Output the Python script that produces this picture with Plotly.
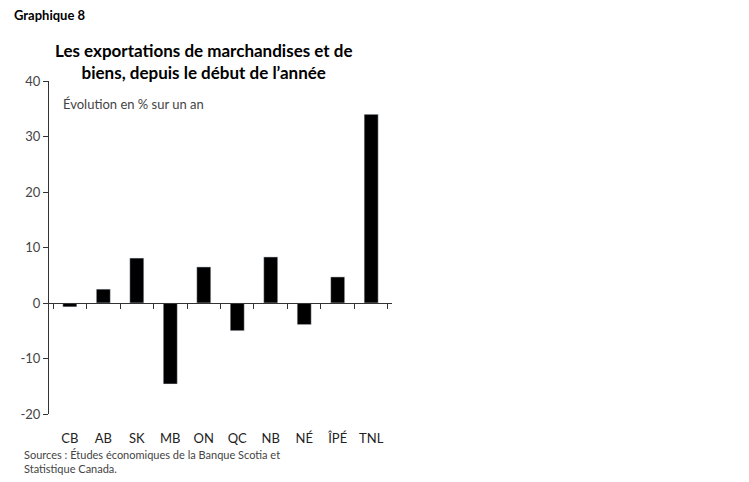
import plotly.graph_objects as go

provinces = ['CB', 'AB', 'SK', 'MB', 'ON', 'QC', 'NB', 'NÉ', 'ÎPÉ', 'TNL']
growth = [-0.7, 2.5, 8.1, -14.6, 6.5, -5.0, 8.3, -3.9, 4.7, 34.0]
yticks = [-20, -10, 0, 10, 20, 30, 40]
yticklabels = ['-20', '-10', '0', '10', '20', '30', '40']

font = 'Lato'
fig = go.Figure()
fig.add_trace(go.Bar(x=provinces, y=growth, marker_color='black', width=0.42, showlegend=False))
# invisible trace to carry the zero-line axis with boundary ticks
fig.add_trace(go.Scatter(x=provinces, y=[0]*len(provinces), xaxis='x2', mode='markers',
                         marker_opacity=0, showlegend=False, hoverinfo='skip'))

def px(p):  # reference pixel row -> paper y
    return (414 - p) / 333

def pxx(q):  # reference pixel column -> paper x
    return (q - 42) / 350

fig.update_layout(
    width=749, height=482,
    margin=dict(l=34, r=365, t=73, b=76),
    plot_bgcolor='white', paper_bgcolor='white',
    font=dict(family=font, size=13, color='#333'),
    yaxis=dict(range=[-20, 40], tickvals=yticks, ticktext=yticklabels, showgrid=False, zeroline=False,
               showline=True, linecolor='#333', ticks='outside', ticklen=5,
               tickcolor='#333', tickfont=dict(size=13, color='#444')),
    xaxis=dict(showline=False, ticks='outside', ticklen=12, tickcolor='rgba(0,0,0,0)',
               showgrid=False, tickfont=dict(size=13, color='#222')),
    xaxis2=dict(overlaying='x', anchor='free', position=1/3, showline=True, linecolor='#333',
                ticks='outside', tickson='boundaries', ticklen=5, tickcolor='#333',
                showticklabels=False, showgrid=False, matches='x'),
    annotations=[
        dict(text='<b>Graphique 8</b>', x=pxx(4), y=px(5), xref='paper', yref='paper', showarrow=False,
             font=dict(size=13, color='black', family=font), xanchor='left', yanchor='top'),
        dict(text='<b>Les exportations de marchandises et de<br>biens, depuis le début de l\u2019année</b>',
             x=pxx(200), y=px(38), xref='paper', yref='paper', showarrow=False,
             font=dict(size=17, color='black', family=font), xanchor='center', yanchor='top'),
        dict(text='Évolution en % sur un an', x=pxx(54), y=px(94), xref='paper', yref='paper',
             showarrow=False, font=dict(size=13, color='#444', family=font),
             xanchor='left', yanchor='top'),
        dict(text='Sources : Études économiques de la Banque Scotia et<br>Statistique Canada.',
             x=pxx(14), y=px(446), xref='paper', yref='paper', showarrow=False, align='left',
             font=dict(size=11, color='#444', family=font), xanchor='left', yanchor='top'),
    ],
)
fig.write_html('out.html')
